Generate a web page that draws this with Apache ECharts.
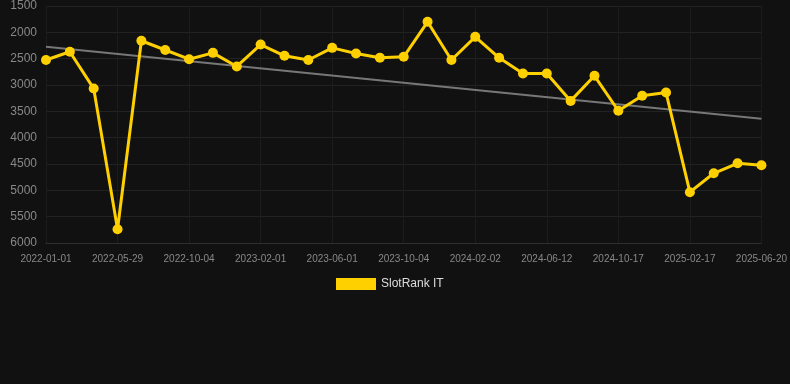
<!DOCTYPE html>
<html>
<head>
<meta charset="utf-8">
<script src="https://cdn.jsdelivr.net/npm/echarts@6/dist/echarts.min.js"></script>
<style>
html,body{margin:0;padding:0;background:#111111;}
#chart{width:790px;height:384px;}
</style>
</head>
<body>
<div id="chart"></div>
<script>
const categories = [
  '2022-01-01','2022-02-19','2022-04-09','2022-05-29','2022-07-11','2022-08-23',
  '2022-10-04','2022-11-13','2022-12-23','2023-02-01','2023-03-13','2023-04-22',
  '2023-06-01','2023-07-12','2023-08-23','2023-10-04','2023-11-13','2023-12-23',
  '2024-02-02','2024-03-16','2024-04-29','2024-06-12','2024-07-24','2024-09-05',
  '2024-10-17','2024-11-28','2025-01-07','2025-02-17','2025-03-21','2025-04-21',
  '2025-06-20'
];
const rankValues = [
  2525, 2368, 3068, 5738, 2160, 2335, 2510, 2390, 2648, 2232, 2446,
  2525, 2295, 2403, 2482, 2465, 1800, 2525, 2086, 2483, 2783, 2783,
  3302, 2825, 3489, 3205, 3143, 5035, 4676, 4486, 4524
];
const trendStart = 2275;
const trendEnd = 3642;
const yTicks = { min: 1500, max: 6000, interval: 500 };

const trendData = categories.map((c, i) =>
  i === 0 ? trendStart : (i === categories.length - 1 ? trendEnd : null));

const chart = echarts.init(document.getElementById('chart'), null, { renderer: 'canvas' });
chart.setOption({
  backgroundColor: '#111111',
  animation: false,
  grid: { left: 46, right: 28, top: 6, bottom: 141, containLabel: false },
  legend: {
    data: ['SlotRank IT'],
    top: 278,
    left: 336,
    padding: 0,
    itemWidth: 40,
    itemHeight: 12,
    itemGap: 10,
    icon: 'rect',
    textStyle: { color: '#dddddd', fontSize: 12, fontFamily: 'Liberation Sans, Arial, sans-serif' }
  },
  xAxis: {
    type: 'category',
    data: categories,
    boundaryGap: false,
    axisLine: { show: true, lineStyle: { color: '#2e2e2e' } },
    axisTick: { show: false },
    axisLabel: {
      interval: 2,
      color: '#888888',
      fontSize: 10,
      margin: 11,
      fontFamily: 'Liberation Sans, Arial, sans-serif'
    },
    splitLine: { show: true, interval: 2, lineStyle: { color: '#1c1c1c' } }
  },
  yAxis: {
    type: 'value',
    inverse: true,
    min: yTicks.min,
    max: yTicks.max,
    interval: yTicks.interval,
    axisLine: { show: false },
    axisTick: { show: false },
    axisLabel: {
      color: '#888888',
      fontSize: 12,
      margin: 9,
      formatter: v => String(v),
      fontFamily: 'Liberation Sans, Arial, sans-serif'
    },
    splitLine: { show: true, lineStyle: { color: '#222222' } }
  },
  series: [
    {
      name: 'Trend',
      type: 'line',
      data: trendData,
      connectNulls: true,
      showSymbol: false,
      symbol: 'none',
      lineStyle: { color: '#777777', width: 2 },
      z: 1,
      silent: true
    },
    {
      name: 'SlotRank IT',
      type: 'line',
      data: rankValues,
      symbol: 'circle',
      symbolSize: 10,
      itemStyle: { color: '#ffd000' },
      lineStyle: { color: '#ffd000', width: 3 },
      z: 3
    }
  ]
});
</script>
</body>
</html>
